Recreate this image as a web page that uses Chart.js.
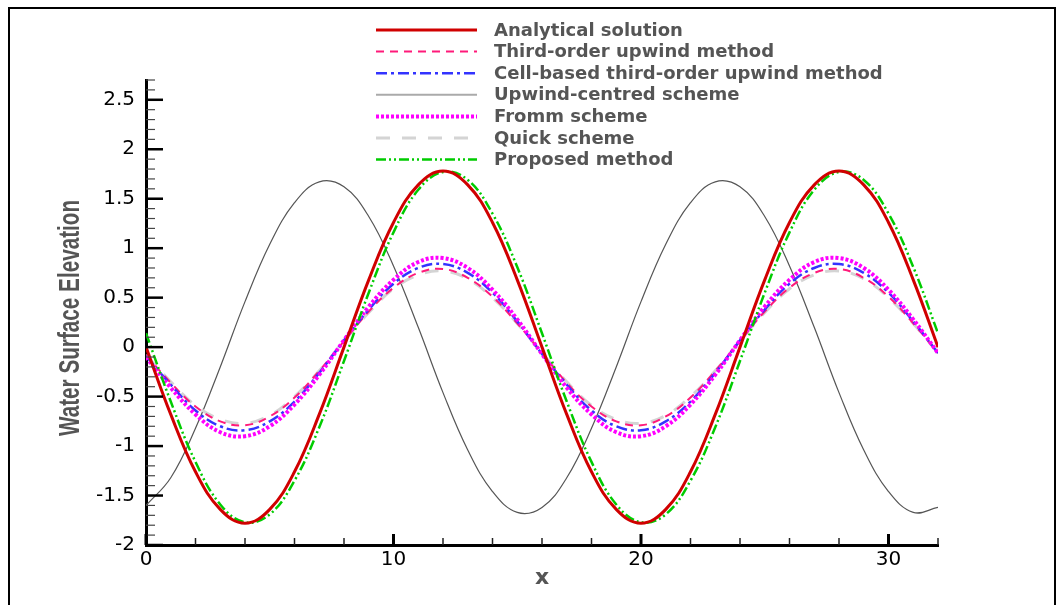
<!DOCTYPE html>
<html>
<head>
<meta charset="utf-8">
<script src="https://cdn.jsdelivr.net/npm/chart.js@4.4.1/dist/chart.umd.min.js"></script>
<style>
  html, body { margin: 0; padding: 0; background: #fff; }
</style>
</head>
<body>
<canvas id="waveChart" width="1063" height="605"></canvas>
<script>
// x positions (same for every series)
const xValues = [0, 1, 2, 3, 4, 5, 6, 7, 8, 9, 10, 11, 12, 13, 14, 15, 16,
                 17, 18, 19, 20, 21, 22, 23, 24, 25, 26, 27, 28, 29, 30, 31, 32];

// Water surface elevation
const analytical = [0, -0.68, -1.26, -1.64, -1.78, -1.64, -1.26, -0.68, 0, 0.68, 1.26, 1.64, 1.78, 1.64, 1.26, 0.68, 0,
                    -0.68, -1.26, -1.64, -1.78, -1.64, -1.26, -0.68, 0, 0.68, 1.26, 1.64, 1.78, 1.64, 1.26, 0.68, 0];
const thirdOrder = [-0.08, -0.36, -0.60, -0.75, -0.79, -0.70, -0.51, -0.24, 0.06, 0.36, 0.60, 0.75, 0.79, 0.70, 0.51, 0.24, -0.06,
                    -0.36, -0.60, -0.75, -0.79, -0.70, -0.51, -0.24, 0.06, 0.36, 0.60, 0.75, 0.79, 0.70, 0.51, 0.24, -0.06];
const cellBased = [-0.09, -0.38, -0.64, -0.80, -0.84, -0.75, -0.55, -0.26, 0.07, 0.38, 0.64, 0.80, 0.84, 0.75, 0.55, 0.26, -0.07,
                   -0.38, -0.64, -0.80, -0.84, -0.75, -0.55, -0.26, 0.07, 0.38, 0.64, 0.80, 0.84, 0.75, 0.55, 0.26, -0.06];
const upwindCentred = [-1.60, -1.32, -0.82, -0.20, 0.46, 1.04, 1.46, 1.67, 1.62, 1.32, 0.82, 0.20, -0.46, -1.04, -1.46, -1.67, -1.62,
                       -1.32, -0.82, -0.20, 0.46, 1.04, 1.46, 1.67, 1.62, 1.32, 0.82, 0.20, -0.46, -1.04, -1.46, -1.67, -1.62];
const fromm = [-0.10, -0.41, -0.68, -0.86, -0.90, -0.80, -0.58, -0.28, 0.07, 0.41, 0.68, 0.86, 0.90, 0.80, 0.58, 0.28, -0.07,
               -0.41, -0.68, -0.86, -0.90, -0.80, -0.58, -0.28, 0.07, 0.41, 0.68, 0.86, 0.90, 0.80, 0.58, 0.28, -0.06];
const quick = [-0.08, -0.35, -0.59, -0.73, -0.77, -0.69, -0.50, -0.24, 0.06, 0.35, 0.59, 0.73, 0.77, 0.69, 0.50, 0.24, -0.06,
               -0.35, -0.59, -0.73, -0.77, -0.69, -0.50, -0.24, 0.06, 0.35, 0.59, 0.73, 0.77, 0.69, 0.50, 0.24, -0.06];
const proposed = [0.14, -0.55, -1.16, -1.59, -1.77, -1.69, -1.35, -0.81, -0.14, 0.55, 1.16, 1.59, 1.77, 1.69, 1.35, 0.81, 0.14,
                  -0.55, -1.16, -1.59, -1.77, -1.69, -1.35, -0.81, -0.14, 0.55, 1.16, 1.59, 1.77, 1.69, 1.35, 0.81, 0.14];

const seriesNames = ['Analytical solution', 'Third-order upwind method', 'Cell-based third-order upwind method',
                     'Upwind-centred scheme', 'Fromm scheme', 'Quick scheme', 'Proposed method'];

// axis settings
const xMin = 0, xMax = 32, xStep = 2, xMajor = 10;
const yMin = -2, yMax = 2.7, yStep = 0.1, yMajor = 0.5;

function toPoints(ys) {
    return xValues.map((x, i) => ({ x: x, y: ys[i] }));
}

function isMultiple(v, m) {
    const r = v / m;
    return Math.abs(r - Math.round(r)) < 1e-6;
}

function makeSet(label, values, color, width, dash, order) {
    return {
        label: label,
        data: toPoints(values),
        borderColor: color,
        backgroundColor: color,
        borderWidth: width,
        borderDash: dash,
        pointRadius: 0,
        tension: 0.4,
        fill: false,
        order: order
    };
}

// inward ticks, legend, y title and outer frame
const decorPlugin = {
    id: 'decor',
    afterDraw(chart) {
        const ctx = chart.ctx;
        const area = chart.chartArea;
        const xs = chart.scales.x;
        const ys = chart.scales.y;
        ctx.save();

        ys.ticks.forEach(t => {
            const py = ys.getPixelForValue(t.value);
            const major = isMultiple(t.value, yMajor);
            ctx.beginPath();
            ctx.strokeStyle = major ? '#000' : '#444';
            ctx.lineWidth = major ? 2.5 : 1.2;
            ctx.moveTo(area.left, py);
            ctx.lineTo(area.left + (major ? 17 : 9), py);
            ctx.stroke();
        });
        xs.ticks.forEach(t => {
            const px = xs.getPixelForValue(t.value);
            const major = isMultiple(t.value, xMajor);
            ctx.beginPath();
            ctx.strokeStyle = major ? '#000' : '#222';
            ctx.lineWidth = major ? 3 : 1.5;
            ctx.moveTo(px, area.bottom);
            ctx.lineTo(px, area.bottom - (major ? 11 : 7));
            ctx.stroke();
        });

        // legend
        chart.data.datasets.forEach((ds, i) => {
            const ly = 30 + i * 21.6;
            ctx.beginPath();
            ctx.strokeStyle = ds.label === 'Upwind-centred scheme' ? '#aaaaaa' : ds.borderColor;
            ctx.lineWidth = ds.label === 'Upwind-centred scheme' ? 2 : ds.borderWidth;
            ctx.setLineDash(ds.borderDash || []);
            ctx.moveTo(376, ly);
            ctx.lineTo(477, ly);
            ctx.stroke();
            ctx.setLineDash([]);
            ctx.fillStyle = '#555';
            ctx.font = 'bold 18px "DejaVu Sans"';
            ctx.textAlign = 'left';
            ctx.textBaseline = 'middle';
            ctx.fillText(ds.label, 494, ly + 1);
        });

        // y axis title (condensed bold)
        ctx.save();
        ctx.translate(71, 318);
        ctx.rotate(-Math.PI / 2);
        ctx.scale(0.69, 1);
        ctx.fillStyle = '#555';
        ctx.font = 'bold 30px "Liberation Sans"';
        ctx.textAlign = 'center';
        ctx.textBaseline = 'middle';
        ctx.fillText('Water Surface Elevation', 0, 0);
        ctx.restore();

        // outer frame
        ctx.strokeStyle = '#000';
        ctx.lineWidth = 2;
        ctx.strokeRect(9, 8, 1046, 640);
        ctx.restore();
    }
};

const waveChart = new Chart(document.getElementById('waveChart'), {
    type: 'line',
    data: {
        datasets: [
            makeSet(seriesNames[0], analytical, '#d00000', 3, [], 0),
            makeSet(seriesNames[1], thirdOrder, '#ff1a7a', 2, [8, 6], 4),
            makeSet(seriesNames[2], cellBased, '#3333ff', 2.5, [11, 4, 3, 4], 3),
            makeSet(seriesNames[3], upwindCentred, '#555555', 1.2, [], 6),
            makeSet(seriesNames[4], fromm, '#ff00ff', 4, [3, 2], 2),
            makeSet(seriesNames[5], quick, '#d4d4d4', 3, [14, 12], 5),
            makeSet(seriesNames[6], proposed, '#00cc00', 2.5, [10, 3, 2, 3, 2, 3], 1)
        ]
    },
    options: {
        responsive: false,
        animation: false,
        layout: { padding: { left: 86, right: 125, top: 80, bottom: 0 } },
        plugins: {
            legend: { display: false },
            tooltip: { enabled: false }
        },
        scales: {
            x: {
                type: 'linear',
                min: xMin,
                max: xMax,
                grid: { display: false, drawTicks: false },
                border: { display: true, color: '#000', width: 3 },
                ticks: {
                    stepSize: xStep,
                    autoSkip: false,
                    maxRotation: 0,
                    padding: 3,
                    color: '#000',
                    font: { family: 'DejaVu Sans', size: 20 },
                    callback: v => isMultiple(v, xMajor) ? String(v) : ''
                },
                title: {
                    display: true,
                    text: 'x',
                    color: '#555',
                    padding: { top: 0, bottom: 14 },
                    font: { family: 'DejaVu Sans', size: 22, weight: 'bold' }
                },
                afterFit: s => { s.height = 60; }
            },
            y: {
                type: 'linear',
                min: yMin,
                max: yMax,
                grid: { display: false, drawTicks: false },
                border: { display: true, color: '#000', width: 3 },
                ticks: {
                    stepSize: yStep,
                    autoSkip: false,
                    padding: 11,
                    color: '#000',
                    font: { family: 'DejaVu Sans', size: 20 },
                    callback: v => isMultiple(v, yMajor) ? String(Math.round(v * 10) / 10) : ''
                },
                afterFit: s => { s.width = 60; }
            }
        }
    },
    plugins: [decorPlugin]
});
</script>
</body>
</html>
